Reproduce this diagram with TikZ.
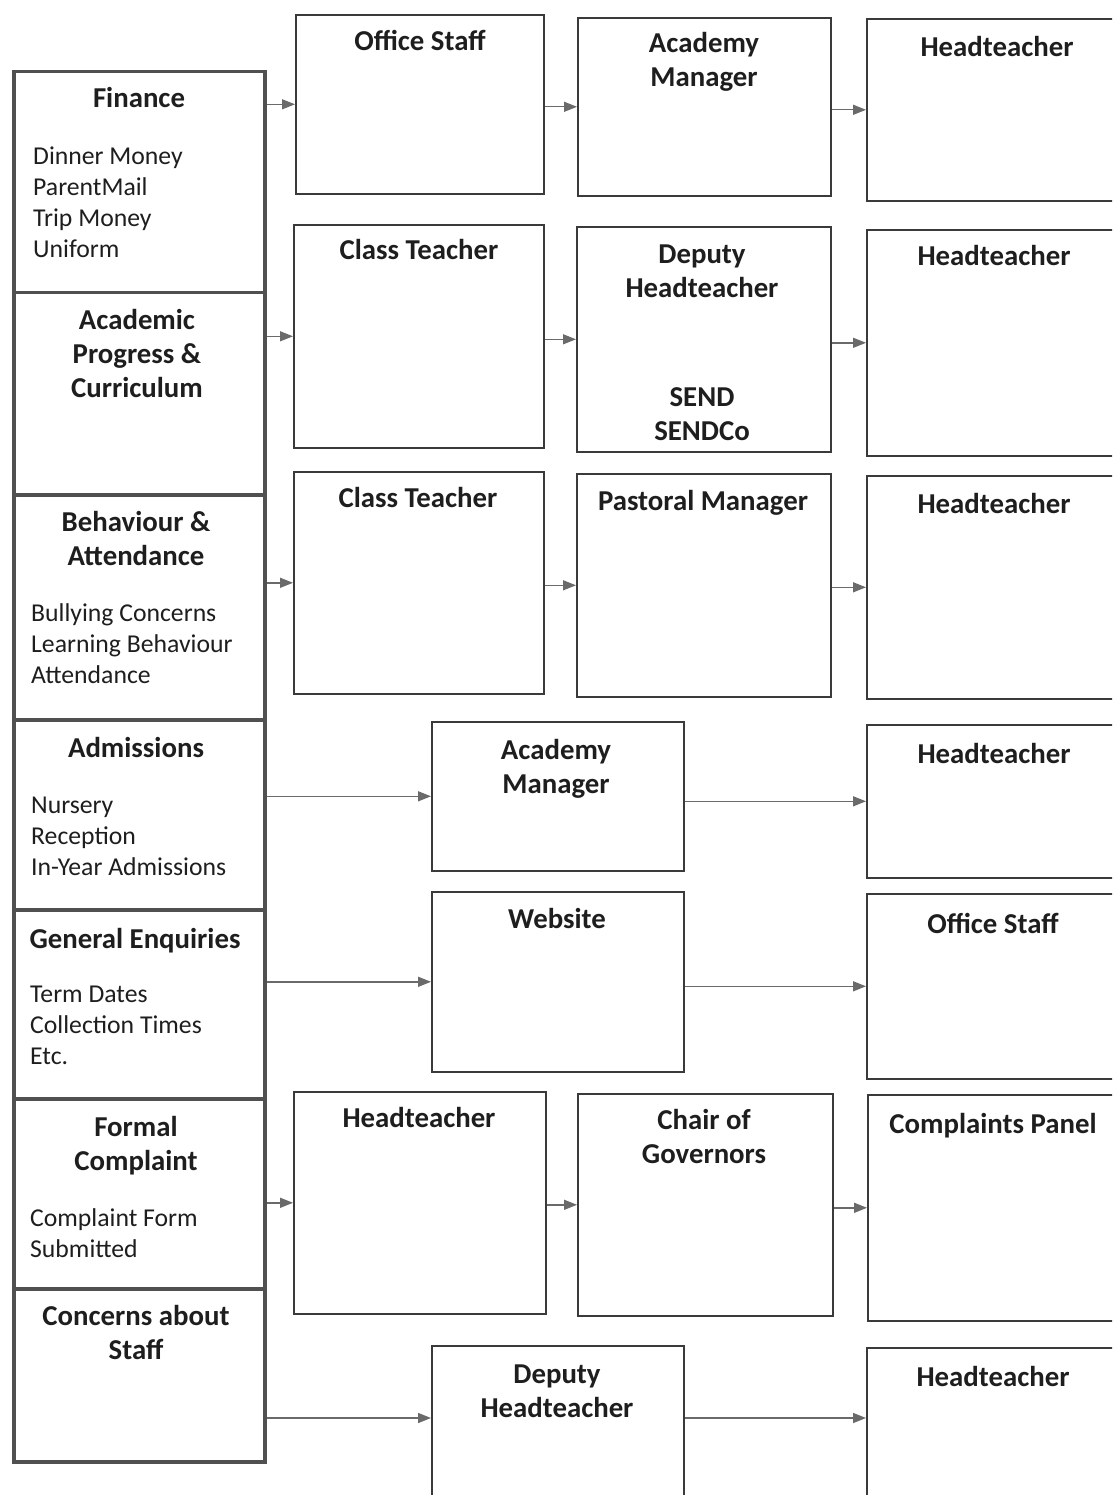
\documentclass[tikz,border=0pt]{standalone}
\usepackage{fontspec}
\setmainfont{Carlito}
\usetikzlibrary{arrows.meta}
\definecolor{ink}{HTML}{1E1E1E}
\definecolor{lframe}{HTML}{505050}
\definecolor{rframe}{HTML}{3A3A3A}
\definecolor{arrowc}{HTML}{6A6A6A}
\begin{document}
\begin{tikzpicture}[x=1pt,y=-1pt,
  lbox/.style={draw=lframe, line width=3.5pt, inner sep=0pt, anchor=north west, minimum width=251pt},
  rbox/.style={draw=rframe, line width=1.6pt, inner sep=0pt, anchor=north west},
  ttl/.style={font=\fontsize{28.8}{34}\selectfont\bfseries, text=ink, align=center, inner sep=0pt, anchor=base},
  lst/.style={font=\fontsize{25.7}{31}\selectfont, text=ink, align=left, inner sep=0pt, anchor=base west},
  arr/.style={draw=arrowc, line width=1.4pt, -{Triangle[length=13pt,width=10pt]}}
]
\useasboundingbox (0,0) rectangle (1112,1495);
\clip (0,0) rectangle (1112,1495);
\fill[white] (0,0) rectangle (1112,1495);

% left column
\node[lbox, minimum height=221pt] (fin) at (12,70) {};
\node[lbox, minimum height=202pt] (aca) at (12,291) {};
\node[lbox, minimum height=225pt] (beh) at (12,493) {};
\node[lbox, minimum height=190pt] (adm) at (12,718) {};
\node[lbox, minimum height=189pt] (gen) at (12,908) {};
\node[lbox, minimum height=190pt] (frm) at (12,1097) {};
\node[lbox, minimum height=173pt] (con) at (12,1287) {};

% (anchor = baseline of the last line)
\node[ttl] (tfin) at (139,108) {Finance};
\node[lst] (lfin) at (33,257.5) {Dinner Money\\ParentMail\\Trip Money\\Uniform};
\node[ttl] (taca) at (137,397) {Academic\\Progress \&\\Curriculum};
\node[ttl] (tbeh) at (136,565) {Behaviour \&\\Attendance};
\node[lst] (lbeh) at (31,683.5) {Bullying Concerns\\Learning Behaviour\\Attendance};
\node[ttl] (tadm) at (136,757) {Admissions};
\node[lst] (ladm) at (31,875.5) {Nursery\\Reception\\In-Year Admissions};
\node[ttl] (tgen) at (135,948) {General Enquiries};
\node[lst] (lgen) at (30,1064.5) {Term Dates\\Collection Times\\Etc.};
\node[ttl] (tfrm) at (136,1170) {Formal\\Complaint};
\node[lst] (lfrm) at (30,1257.5) {Complaint Form\\Submitted};
\node[ttl] (tcon) at (136,1359) {Concerns about\\Staff};

% right boxes
\node[rbox, minimum width=248pt, minimum height=179pt] (r1a) at (295,14) {};
\node[rbox, minimum width=253pt, minimum height=178pt] (r1b) at (577,17) {};
\node[rbox, minimum width=300pt, minimum height=182pt] (r1c) at (866,18) {};
\node[rbox, minimum width=250pt, minimum height=223pt] (r2a) at (293,224) {};
\node[rbox, minimum width=254pt, minimum height=225pt] (r2b) at (576,226) {};
\node[rbox, minimum width=300pt, minimum height=226pt] (r2c) at (866,229) {};
\node[rbox, minimum width=250pt, minimum height=222pt] (r3a) at (293,471) {};
\node[rbox, minimum width=254pt, minimum height=223pt] (r3b) at (576,473) {};
\node[rbox, minimum width=300pt, minimum height=223pt] (r3c) at (866,475) {};
\node[rbox, minimum width=252pt, minimum height=149pt] (r4a) at (431,721) {};
\node[rbox, minimum width=300pt, minimum height=153pt] (r4b) at (866,724) {};
\node[rbox, minimum width=252pt, minimum height=180pt] (r5a) at (431,891) {};
\node[rbox, minimum width=300pt, minimum height=185pt] (r5b) at (866,893) {};
\node[rbox, minimum width=252pt, minimum height=222pt] (r6a) at (293,1091) {};
\node[rbox, minimum width=255pt, minimum height=222pt] (r6b) at (577,1093) {};
\node[rbox, minimum width=300pt, minimum height=226pt] (r6c) at (867,1094) {};
\node[rbox, minimum width=252pt, minimum height=200pt] (r7a) at (431,1345) {};
\node[rbox, minimum width=300pt, minimum height=200pt] (r7b) at (866,1347) {};

% right box texts (anchor = baseline of the last line)
\node[ttl] (t1a) at (420,51) {Office Staff};
\node[ttl] (t1b) at (704,87) {Academy\\Manager};
\node[ttl] (t1c) at (997,57) {Headteacher};
\node[ttl] (t2a) at (419,260) {Class Teacher};
\node[ttl] (t2b) at (702,298) {Deputy\\Headteacher};
\node[ttl] (t2s) at (702,440) {SEND\\SENDCo};
\node[ttl] (t2c) at (994,266) {Headteacher};
\node[ttl] (t3a) at (418,507) {Class Teacher};
\node[ttl] (t3b) at (703,510) {Pastoral Manager};
\node[ttl] (t3c) at (994,513) {Headteacher};
\node[ttl] (t4a) at (556,793) {Academy\\Manager};
\node[ttl] (t4b) at (994,763) {Headteacher};
\node[ttl] (t5a) at (557,928) {Website};
\node[ttl] (t5b) at (993,933) {Office Staff};
\node[ttl] (t6a) at (419,1127) {Headteacher};
\node[ttl] (t6b) at (704,1163) {Chair of\\Governors};
\node[ttl] (t6c) at (993,1133) {Complaints Panel};
\node[ttl] (t7a) at (557,1417) {Deputy\\Headteacher};
\node[ttl] (t7b) at (993,1386) {Headteacher};

% arrows
\draw[arr] (fin.east |- r1a.west) -- (r1a.west);
\draw[arr] (r1a.east |- r1b.west) -- (r1b.west);
\draw[arr] (r1b.east |- r1c.west) -- (r1c.west);
\draw[arr] (aca.east |- r2a.west) -- (r2a.west);
\draw[arr] (r2a.east |- r2b.west) -- (r2b.west);
\draw[arr] (r2b.east |- r2c.west) -- (r2c.west);
\draw[arr] (beh.east |- r3a.west) -- (r3a.west);
\draw[arr] (r3a.east |- r3b.west) -- (r3b.west);
\draw[arr] (r3b.east |- r3c.west) -- (r3c.west);
\draw[arr] (adm.east |- r4a.west) -- (r4a.west);
\draw[arr] (r4a.east |- r4b.west) -- (r4b.west);
\draw[arr] (gen.east |- r5a.west) -- (r5a.west);
\draw[arr] (r5a.east |- r5b.west) -- (r5b.west);
\draw[arr] (frm.east |- r6a.west) -- (r6a.west);
\draw[arr] (r6a.east |- r6b.west) -- (r6b.west);
\draw[arr] (r6b.east |- r6c.west) -- (r6c.west);
\coordinate (row7) at (0,1418);
\draw[arr] (con.east |- row7) -- (r7a.west |- row7);
\draw[arr] (r7a.east |- row7) -- (r7b.west |- row7);
\end{tikzpicture}
\end{document}
